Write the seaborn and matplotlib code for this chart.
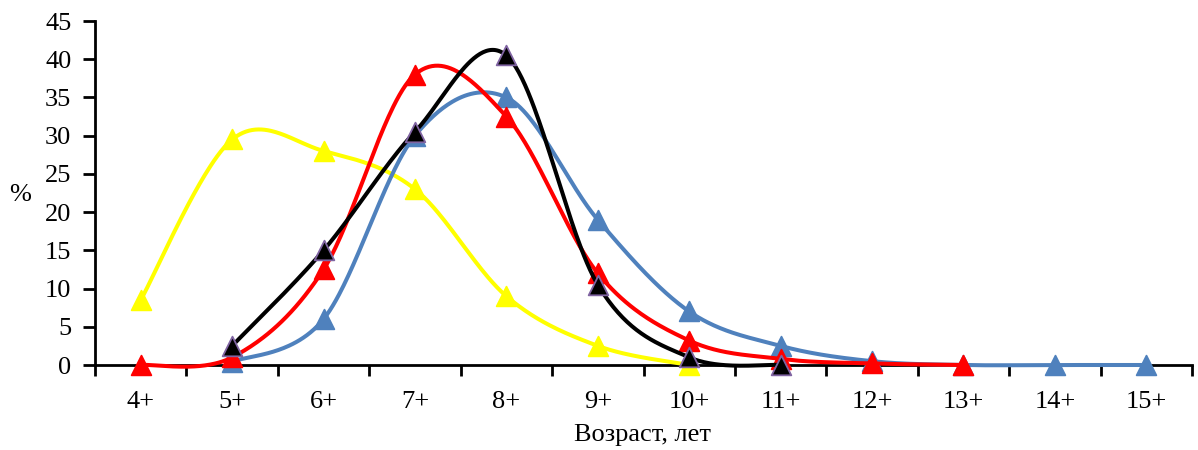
import numpy as np
import pandas as pd
import matplotlib
matplotlib.use("Agg")
import matplotlib.pyplot as plt
import seaborn as sns

# Age classes and share of each class (%) for four samples
ages = ["4+", "5+", "6+", "7+", "8+", "9+", "10+", "11+", "12+", "13+", "14+", "15+"]

yellow_ages = ["4+", "5+", "6+", "7+", "8+", "9+", "10+"]
yellow_vals = [8.5, 29.5, 28.0, 23.0, 9.0, 2.5, 0.0]

blue_ages = ["5+", "6+", "7+", "8+", "9+", "10+", "11+", "12+", "13+", "14+", "15+"]
blue_vals = [0.4, 6.0, 30.0, 35.0, 19.0, 7.0, 2.5, 0.5, 0.0, 0.0, 0.0]

red_ages = ["4+", "5+", "6+", "7+", "8+", "9+", "10+", "11+", "12+", "13+"]
red_vals = [0.0, 1.0, 12.5, 38.0, 32.5, 12.0, 3.2, 0.8, 0.2, 0.0]

black_ages = ["5+", "6+", "7+", "8+", "9+", "10+", "11+"]
black_vals = [2.5, 15.0, 30.5, 40.5, 10.5, 1.0, 0.0]


def smooth_curve(xs, ys, n=60):
    """Cubic Bezier smoothing through the points (Catmull-Rom control points)."""
    pts = np.column_stack([xs, ys]).astype(float)
    m = len(pts)
    out = []
    t = np.linspace(0, 1, n)[:, None]
    for i in range(m - 1):
        p0 = pts[max(i - 1, 0)]
        p1 = pts[i]
        p2 = pts[i + 1]
        p3 = pts[min(i + 2, m - 1)]
        c1 = p1 + (p2 - p0) / 6.0
        c2 = p2 - (p3 - p1) / 6.0
        seg = ((1 - t) ** 3) * p1 + 3 * ((1 - t) ** 2) * t * c1 + 3 * (1 - t) * t ** 2 * c2 + t ** 3 * p2
        out.append(seg if i == 0 else seg[1:])
    seg = np.vstack(out)
    return seg[:, 0], seg[:, 1]


sns.set_theme(style="white")
plt.rcParams["font.family"] = ["Liberation Serif", "DejaVu Serif"]

fig = plt.figure(figsize=(11.98, 4.5), dpi=100)
ax = fig.add_axes([95 / 1198, 85 / 450, (1192 - 95) / 1198, (365 - 21) / 450])

series = [
    (yellow_ages, yellow_vals, "#FFFF00", "#FFFF00"),
    (blue_ages, blue_vals, "#4F81BD", "#4F81BD"),
    (red_ages, red_vals, "#FF0000", "#FF0000"),
    (black_ages, black_vals, "#000000", "#8064A2"),
]

pos = {a: i for i, a in enumerate(ages)}
for z, (cats, vals, col, edge) in enumerate(series):
    xs = [pos[c] for c in cats]
    sx, sy = smooth_curve(xs, vals)
    line_ax = sns.lineplot(x=sx, y=sy, sort=False, estimator=None, color=col, linewidth=2.9,
                           ax=ax, zorder=3 + 2 * z)
    line_ax.lines[-1].set_clip_on(False)
    sns.scatterplot(x=xs, y=vals, marker="^", s=200, color=col, edgecolor=edge,
                    linewidth=1.3, ax=ax, zorder=4 + 2 * z, clip_on=False)

ax.set_xlim(-0.5, len(ages) - 0.5)
ax.set_ylim(0, 45)
ax.set_yticks(np.arange(0, 46, 5))

# Ticks between categories, labels centred on categories
ax.set_xticks(np.arange(-0.5, len(ages), 1.0))
ax.set_xticklabels([])
ax.set_xticks(np.arange(len(ages)), minor=True)
ax.set_xticklabels(ages, minor=True)
ax.tick_params(axis="x", which="major", direction="out", length=8, width=2, color="black", bottom=True)
ax.tick_params(axis="x", which="minor", length=0, labelsize=19, pad=19, bottom=True)
ax.tick_params(axis="y", direction="out", length=9, width=2, color="black", labelsize=19, pad=8, left=True)

for side in ["top", "right"]:
    ax.spines[side].set_visible(False)
for side in ["left", "bottom"]:
    ax.spines[side].set_color("black")
    ax.spines[side].set_linewidth(2)
ax.grid(False)

ax.set_xlabel("Возраст, лет", fontsize=19, color="black", va="center", ha="center")
ax.xaxis.set_label_coords(0.5 + (643 - 643.5) / 1097, (365 - 435) / 344)
ax.set_ylabel("%", fontsize=19, color="black", rotation=0, va="center", ha="center")
ax.yaxis.set_label_coords((20 - 95) / 1097, (365 - 195) / 344)
for lab in ax.get_xticklabels(minor=True) + ax.get_yticklabels():
    lab.set_color("black")

fig.savefig("out.png", dpi=100, facecolor="white")
